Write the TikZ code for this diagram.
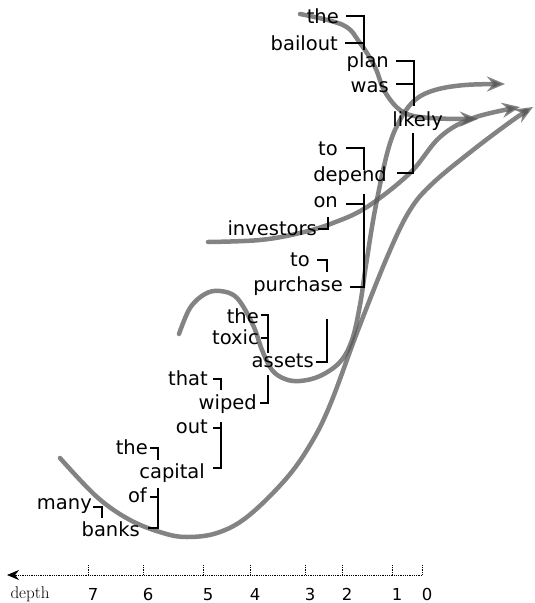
\documentclass[tikz,border=0pt]{standalone}
\usepackage{fontspec}
\newfontfamily\wordfont{DejaVu Sans}
\usetikzlibrary{arrows.meta}

\begin{document}
\begin{tikzpicture}[x=1pt,y=-1pt,
        word/.style={anchor=base east, inner sep=0pt, font=\wordfont\fontsize{19.5}{22}\selectfont},
        dep/.style={black, line width=1.3pt},
        flow/.style={black!65, opacity=.75, line width=4.5pt, line cap=round,
                     -{Stealth[length=18pt,width=15pt,inset=6pt]}},
        num/.style={anchor=base, inner sep=0pt, font=\wordfont\fontsize{16.5}{18}\selectfont}]
            \useasboundingbox (0,0) rectangle (535,603);
            % memory trajectories
            \draw [flow] plot [smooth, tension=.6] coordinates {(300,14) (343,25) (360,43) (375,67)
                (385,92) (403,112) (430,118) (478,119)};
            \draw [flow] plot [smooth, tension=.6] coordinates {(208,242) (260,240) (300,233) (333,223)
                (367,207) (410,173) (440,137) (473,118) (520,107)};
            \draw [flow] plot [smooth, tension=.6] coordinates {(179,334) (190,308) (205,294) (220,291)
                (237,298) (253,325) (262,350) (272,370) (285,379) (300,381) (320,376) (340,362)
                (352,340) (360,305) (366,265) (375,210) (388,150) (400,120) (415,100) (435,90)
                (465,85) (505,84)};
            \draw [flow] plot [smooth, tension=.6] coordinates {(60,458) (97,497) (130,520) (163,533)
                (187,537) (217,533) (247,517) (285,480) (310,445) (330,405) (358,330) (388,255)
                (410,210) (433,183) (473,150) (513,120) (533,107)};
            % words
            \node [word] (the1)      at (339,23)  {the};
            \node [word] (bailout)   at (338,50)  {bailout};
            \node [word] (plan)      at (389,67)  {plan};
            \node [word] (was)       at (389,92)  {was};
            \node [word] (likely)    at (443,126) {likely};
            \node [word] (to1)       at (338,155) {to};
            \node [word] (depend)    at (387,181) {depend};
            \node [word] (on)        at (338,207) {on};
            \node [word] (investors) at (317,235) {investors};
            \node [word] (to2)       at (310,266) {to};
            \node [word] (purchase)  at (343,291) {purchase};
            \node [word] (the2)      at (259,323) {the};
            \node [word] (toxic)     at (259,344) {toxic};
            \node [word] (assets)    at (314,367) {assets};
            \node [word] (that)      at (208,385) {that};
            \node [word] (wiped)     at (257,409) {wiped};
            \node [word] (out)       at (208,433) {out};
            \node [word] (the3)      at (148,454) {the};
            \node [word] (capital)   at (205,478) {capital};
            \node [word] (of)        at (147,502) {of};
            \node [word] (many)      at (92,509)  {many};
            \node [word] (banks)     at (140,536) {banks};
            % dependency brackets
            \draw [dep] ([xshift=7pt,yshift=7pt]the1.base east) -| ([xshift=-25pt,yshift=17pt]plan.base east);
            \draw [dep] ([xshift=7pt,yshift=7pt]bailout.base east) -- ++(19,0);
            \draw [dep] ([xshift=7pt,yshift=6pt]plan.base east) -| ([xshift=-29pt,yshift=20pt]likely.base east);
            \draw [dep] ([xshift=7pt,yshift=8pt]was.base east) -- ++(18,0);
            \draw [dep] ([xshift=10pt,yshift=8pt]depend.base east) -| ([xshift=-30pt,yshift=-7pt]likely.base east);
            \draw [dep] ([xshift=8pt,yshift=7pt]to1.base east) -| ([xshift=-23pt,yshift=11pt]depend.base east);
            \draw [dep] ([xshift=7pt,yshift=4pt]purchase.base east) -| ([xshift=-23pt,yshift=-13pt]depend.base east);
            \draw [dep] ([xshift=8pt,yshift=3pt]on.base east) -- ++(18,0);
            \draw [dep] ([xshift=1pt,yshift=6pt]investors.base east) -| ([xshift=-10pt,yshift=-10pt]on.base east);
            \draw [dep] ([xshift=7pt,yshift=6pt]to2.base east) -| ([xshift=-16pt,yshift=19pt]purchase.base east);
            \draw [dep] ([xshift=2pt,yshift=5pt]assets.base east) -| ([xshift=-16pt,yshift=-28pt]purchase.base east);
            \draw [dep] ([xshift=2pt,yshift=8pt]the2.base east) -| ([xshift=-46pt,yshift=14pt]assets.base east);
            \draw [dep] ([xshift=2pt,yshift=6pt]toxic.base east) -- ++(7,0);
            \draw [dep] ([xshift=5pt,yshift=6pt]that.base east) -| ([xshift=-36pt,yshift=19pt]wiped.base east);
            \draw [dep] ([xshift=3pt,yshift=6pt]wiped.base east) -| ([xshift=-46pt,yshift=-8pt]assets.base east);
            \draw [dep] ([xshift=8pt,yshift=10pt]capital.base east) -| ([xshift=-36pt,yshift=-13pt]wiped.base east);
            \draw [dep] ([xshift=5pt,yshift=5pt]out.base east) -- ++(8,0);
            \draw [dep] ([xshift=2pt,yshift=6pt]the3.base east) -| ([xshift=-47pt,yshift=18pt]capital.base east);
            \draw [dep] ([xshift=8pt,yshift=8pt]banks.base east) -| ([xshift=-47pt,yshift=-10pt]capital.base east);
            \draw [dep] ([xshift=3pt,yshift=5pt]of.base east) -- ++(8,0);
            \draw [dep] ([xshift=1pt,yshift=2pt]many.base east) -| ([xshift=-38pt,yshift=18pt]banks.base east);
            % depth axis
            \coordinate (d0) at (422,575);
            \coordinate (dend) at (7,575);
            \draw [densely dotted, line width=.8pt, -{Stealth[length=12pt,width=10pt]}] (d0) -- (dend);
            \foreach \x/\n in {88/7,143/6,203/5,250/4,305/3,342/2,392/1,422/0}
            {
                \draw [densely dotted, line width=.8pt] (\x,565) -- (\x,575);
                \node [num] (n\n) at (\x+5,600) {\n};
            }
            \node [anchor=base, inner sep=0pt, font=\fontsize{17}{18}\selectfont] (depth) at (30,598) {depth};
        \end{tikzpicture}
\end{document}
